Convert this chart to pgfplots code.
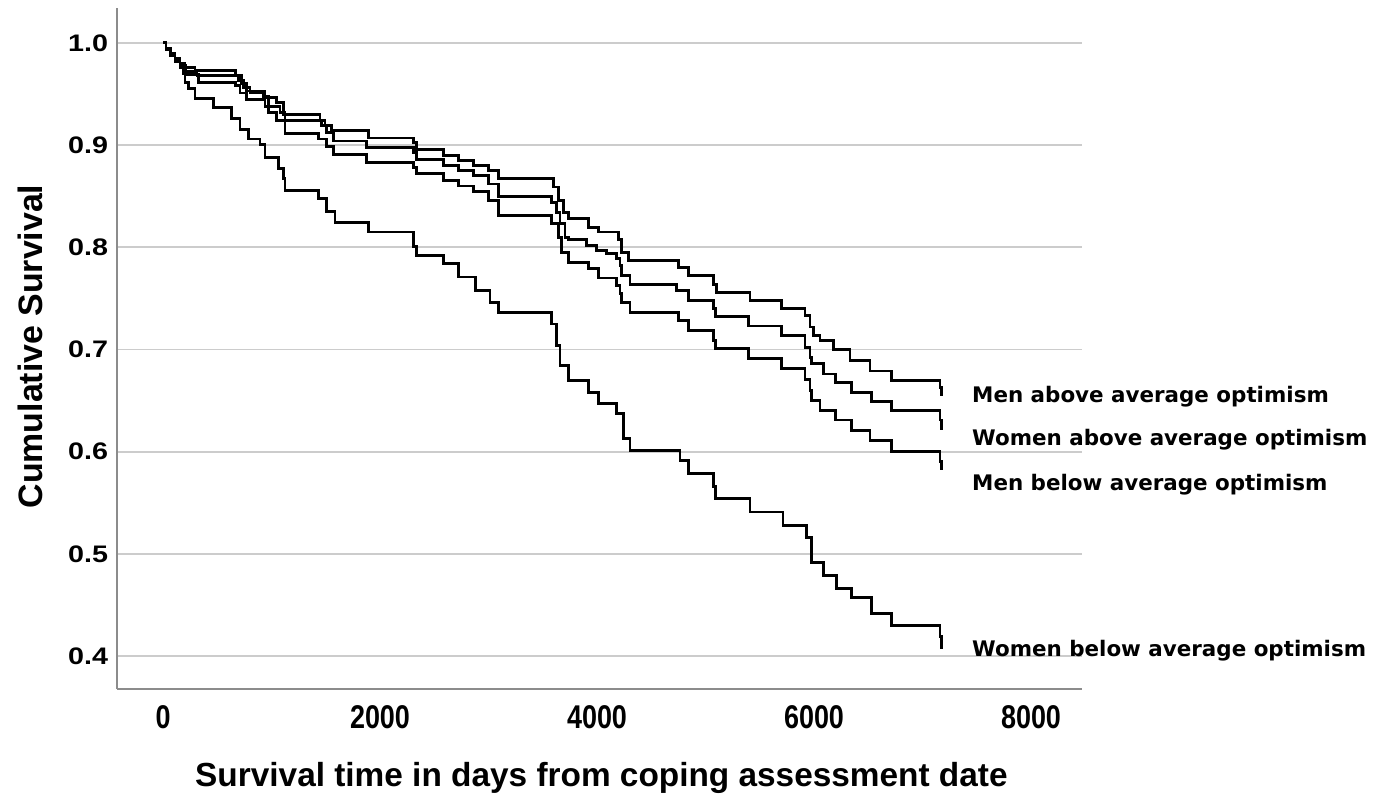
\documentclass[border=0pt]{standalone}
\usepackage{pgfplots}
\pgfplotsset{compat=1.18}
\usepackage{fontspec}
\setmainfont{Liberation Sans}
\newfontfamily\ytf{Liberation Sans}[FakeStretch=1.2]
\newfontfamily\xtf{Liberation Sans}[FakeStretch=0.82]
\newfontfamily\labf{DejaVu Sans}
\definecolor{gridgray}{HTML}{CCCCCC}
\definecolor{axgray}{HTML}{8C8C8C}
\tikzset{km/.style={const plot, black, no markers, line width=2.9bp, line join=miter}}
\begin{document}
\begin{tikzpicture}
\begin{axis}[
  at={(117bp,107bp)}, anchor=south west,
  scale only axis, width=965bp, height=681bp,
  xmin=-424, xmax=8470, ymin=0.3678, ymax=1.0342,
  axis lines=left,
  axis line style={draw=axgray, line width=1.5bp, -},
  ymajorgrids, grid style={draw=gridgray, line width=1.8bp},
  major tick length=0pt,
  xtick={0,2000,4000,6000,8000},
  ytick={0.4,0.5,0.6,0.7,0.8,0.9,1.0},
  /pgf/number format/assume math mode=true,
  xticklabel style={font=\xtf\bfseries\fontsize{33}{33}\selectfont, anchor=north, inner sep=0pt, yshift=-16bp,
    /pgf/number format/.cd, fixed, 1000 sep={}},
  yticklabel style={font=\ytf\bfseries\fontsize{24}{24}\selectfont, anchor=east, inner sep=0pt, xshift=-8.7bp,
    /pgf/number format/.cd, fixed, fixed zerofill, precision=1},
  xlabel={Survival time in days from coping assessment date},
  ylabel={Cumulative Survival},
  xlabel style={at={(axis description cs:0.502,0)}, anchor=base, yshift=-97bp, inner sep=0pt, font=\bfseries\fontsize{33.5}{33.5}\selectfont},
  ylabel style={at={(axis description cs:-0.0777,0.503)}, anchor=base, inner sep=0pt, font=\bfseries\fontsize{34}{34}\selectfont},
  clip=false,
]
\addplot[km] coordinates {
(0,1.0)(28,0.995)(65,0.99)(111,0.985)(157,0.98)(203,0.976)(295,0.973)(664,0.968)(725,0.960)(771,0.953)(940,0.947)(1048,0.942)(1109,0.930)(1447,0.924)(1493,0.919)(1555,0.914)(1892,0.907)(2307,0.903)(2338,0.896)(2583,0.890)(2722,0.885)(2860,0.880)(2998,0.875)(3090,0.867)(3597,0.859)(3643,0.846)(3690,0.834)(3736,0.828)(3920,0.819)(4012,0.815)(4196,0.808)(4228,0.795)(4289,0.787)(4749,0.780)(4841,0.772)(5072,0.764)(5103,0.756)(5410,0.748)(5702,0.740)(5917,0.733)(5963,0.722)(5994,0.714)(6055,0.709)(6178,0.700)(6332,0.689)(6516,0.679)(6716,0.670)(7161,0.663)(7177,0.655)
};
\addplot[km] coordinates {
(0,1.0)(28,0.995)(65,0.99)(111,0.984)(157,0.978)(212,0.972)(313,0.968)(694,0.963)(740,0.956)(802,0.951)(924,0.948)(970,0.938)(1078,0.932)(1124,0.924)(1463,0.919)(1509,0.912)(1570,0.904)(1877,0.898)(2307,0.893)(2338,0.886)(2583,0.880)(2722,0.875)(2860,0.870)(2998,0.862)(3090,0.850)(3582,0.844)(3628,0.834)(3659,0.823)(3705,0.810)(3736,0.808)(3905,0.802)(3997,0.797)(4090,0.794)(4181,0.789)(4212,0.782)(4228,0.772)(4304,0.764)(4735,0.758)(4841,0.748)(5072,0.740)(5088,0.732)(5394,0.723)(5702,0.714)(5917,0.702)(5963,0.692)(5979,0.686)(6086,0.676)(6194,0.668)(6347,0.658)(6532,0.649)(6716,0.640)(7161,0.631)(7177,0.621)
};
\addplot[km] coordinates {
(0,1.0)(28,0.994)(65,0.988)(111,0.982)(157,0.976)(203,0.969)(323,0.961)(664,0.958)(710,0.951)(771,0.945)(940,0.938)(970,0.932)(1048,0.924)(1124,0.911)(1431,0.906)(1509,0.899)(1570,0.891)(1877,0.883)(2307,0.878)(2338,0.872)(2583,0.865)(2722,0.860)(2860,0.855)(2998,0.846)(3090,0.831)(3582,0.823)(3643,0.810)(3675,0.795)(3736,0.785)(3920,0.779)(4012,0.770)(4181,0.763)(4212,0.755)(4228,0.746)(4304,0.736)(4749,0.728)(4841,0.719)(5072,0.709)(5088,0.701)(5394,0.691)(5702,0.681)(5917,0.671)(5963,0.660)(5979,0.650)(6055,0.640)(6194,0.631)(6347,0.621)(6516,0.611)(6716,0.600)(7161,0.590)(7177,0.582)
};
\addplot[km] coordinates {
(0,1.0)(28,0.994)(65,0.988)(111,0.982)(157,0.976)(184,0.970)(203,0.961)(233,0.955)(295,0.946)(464,0.937)(633,0.926)(710,0.915)(786,0.906)(894,0.901)(940,0.888)(1063,0.877)(1109,0.867)(1124,0.856)(1431,0.848)(1509,0.835)(1585,0.824)(1892,0.815)(2307,0.801)(2338,0.792)(2583,0.784)(2722,0.771)(2876,0.758)(3014,0.746)(3090,0.736)(3582,0.725)(3628,0.704)(3659,0.684)(3736,0.670)(3920,0.658)(4012,0.647)(4181,0.637)(4240,0.613)(4304,0.601)(4765,0.591)(4841,0.579)(5072,0.566)(5088,0.554)(5410,0.541)(5714,0.528)(5933,0.516)(5979,0.492)(6086,0.479)(6209,0.466)(6347,0.457)(6532,0.442)(6716,0.430)(7161,0.419)(7177,0.407)
};
\begin{scope}[every node/.style={anchor=base west, inner sep=0pt, font=\labf\bfseries\fontsize{21.5}{21.5}\selectfont}]
\node at (axis cs:7456,0.6485) {Men above average optimism};
\node at (axis cs:7456,0.6062) {Women above average optimism};
\node at (axis cs:7456,0.5622) {Men below average optimism};
\node at (axis cs:7456,0.3993) {Women below average optimism};
\end{scope}
\end{axis}
\pgfresetboundingbox
\path[use as bounding box] (0,0) rectangle (1376bp,796bp);
\end{tikzpicture}
\end{document}
